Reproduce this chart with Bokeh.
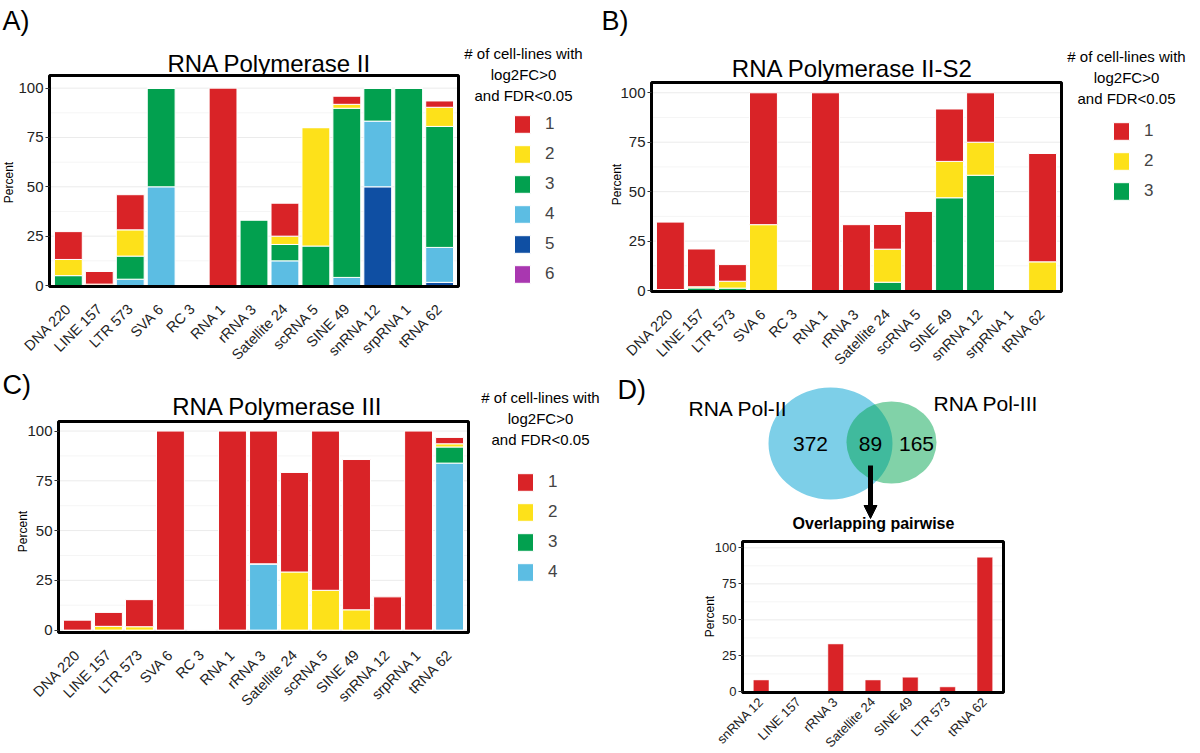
import math
from bokeh.plotting import figure
from bokeh.models import (ColumnDataSource, Range1d, Legend, LegendItem, Label, Arrow,
                          NormalHead, FixedTicker, LinearAxis)
from bokeh.embed import file_html
from bokeh.resources import INLINE
from bokeh.core.properties import value

FONT = "Liberation Sans"

# ---------------- data ----------------
categories = ["DNA 220", "LINE 157", "LTR 573", "SVA 6", "RC 3", "RNA 1", "rRNA 3",
              "Satellite 24", "scRNA 5", "SINE 49", "snRNA 12", "srpRNA 1", "tRNA 62"]
level_names = ["1", "2", "3", "4", "5", "6"]
level_colors = ["#d92327", "#fde11a", "#02a04f", "#5cbde3", "#0f4fa3", "#a937b0"]

# RNA Polymerase II (percent of elements, split by # of cell-lines)
pol2_1 = [14.1, 6.4, 17.8, 0, 0, 100, 0, 16.7, 0, 4.1, 0, 0, 3.2]
pol2_2 = [8.2, 0.7, 13.3, 0, 0, 0, 0, 4.2, 60, 2.0, 0, 0, 9.7]
pol2_3 = [5.0, 0, 11.7, 50, 0, 0, 33.3, 8.3, 20, 85.7, 16.7, 100, 61.3]
pol2_4 = [0, 0, 3.2, 50, 0, 0, 0, 12.5, 0, 4.1, 33.3, 0, 17.7]
pol2_5 = [0, 0, 0, 0, 0, 0, 0, 0, 0, 0, 50, 0, 1.6]
pol2_6 = [0, 0, 0, 0, 0, 0, 0, 0, 0, 0, 0, 0, 0]

# RNA Polymerase II-S2
pol2s2_1 = [34.1, 19.1, 8.4, 66.7, 0, 100, 33.3, 12.5, 40, 26.5, 25, 0, 54.8]
pol2s2_2 = [0.5, 0.6, 3.5, 33.3, 0, 0, 0, 16.7, 0, 18.4, 16.7, 0, 14.5]
pol2s2_3 = [0, 1.3, 1.2, 0, 0, 0, 0, 4.2, 0, 46.9, 58.3, 0, 0]

# RNA Polymerase III
pol3_1 = [5.0, 7.0, 13.6, 100, 0, 100, 66.7, 50, 80, 75.5, 16.7, 100, 3.2]
pol3_2 = [0, 1.9, 1.7, 0, 0, 0, 0, 29.2, 20, 10.2, 0, 0, 1.6]
pol3_3 = [0, 0, 0, 0, 0, 0, 0, 0, 0, 0, 0, 0, 8.1]
pol3_4 = [0, 0, 0, 0, 0, 0, 33.3, 0, 0, 0, 0, 0, 83.9]

# Venn counts: Pol-II only, overlap, Pol-III only
venn_counts = [372, 89, 165]
venn_set_names = ["RNA Pol-II", "RNA Pol-III"]

# Overlapping pairwise
overlap_categories = ["snRNA 12", "LINE 157", "rRNA 3", "Satellite 24", "SINE 49", "LTR 573", "tRNA 62"]
overlap_values = [8.3, 0.6, 33.3, 8.3, 10.2, 3.5, 93.5]

y_ticks = [0, 25, 50, 75, 100]
y_minor = [12.5, 37.5, 62.5, 87.5]
legend_title_lines = ["# of cell-lines with", "log2FC>0", "and FDR<0.05"]

# ---------------- page geometry (pixels of the picture) ----------------
PX0, PX1, PY0, PY1 = 0, 1200, 0, 753
BASE = 0.34  # baseline correction for text, in font sizes

p = figure(width=PX1 - PX0, height=PY1 - PY0, min_border=0,
           x_range=Range1d(PX0, PX1), y_range=Range1d(PY1, PY0),
           x_axis_location=None, y_axis_location=None, outline_line_color=None,
           toolbar_location=None, output_backend="svg")
p.grid.visible = False


def sub_ranges(name, dx, dy, px_l, px_r, px_t, px_b):
    kx = (dx[1] - dx[0]) / (px_r - px_l)
    p.extra_x_ranges[name] = Range1d(dx[0] - (px_l - PX0) * kx, dx[1] + (PX1 - px_r) * kx)
    ky = (dy[1] - dy[0]) / (px_b - px_t)
    p.extra_y_ranges[name] = Range1d(dy[0] - (PY1 - px_b) * ky, dy[1] + (px_t - PY0) * ky)


def label(x, y, text, size, align="left", style="normal", angle=0, baseline="alphabetic"):
    yy = y - BASE * size if baseline == "alphabetic" else y
    p.add_layout(Label(x=x, y=yy, text=text, text_font=FONT, text_font_size=f"{size}px",
                       text_align=align, text_baseline=baseline, text_color="black",
                       text_font_style=style, angle=angle))


def panel_axes(name, cats, dx, dy, tick_px, xlab_px, standoff):
    xs = list(range(len(cats)))
    rn = dict(x_range_name=name, y_range_name=name)
    p.segment(x0=[dx[0]] * len(y_minor), x1=[dx[1]] * len(y_minor), y0=y_minor, y1=y_minor,
              line_color="#f5f5f5", line_width=1, **rn)
    p.segment(x0=[dx[0]] * len(y_ticks), x1=[dx[1]] * len(y_ticks), y0=y_ticks, y1=y_ticks,
              line_color="#ebebeb", line_width=1, **rn)
    yax = LinearAxis(fixed_location=dx[0], ticker=FixedTicker(ticks=y_ticks), bounds=(0, 100), **rn)
    yax.axis_line_color = None
    yax.major_tick_in = 0
    yax.major_tick_out = 4
    yax.major_tick_line_color = "#333333"
    yax.minor_tick_line_color = None
    yax.major_label_text_font = FONT
    yax.major_label_text_font_size = tick_px
    yax.major_label_text_color = "#222222"
    yax.major_label_standoff = 2
    p.add_layout(yax, "left")
    xax = LinearAxis(fixed_location=dy[0], ticker=FixedTicker(ticks=xs),
                     major_label_overrides={i: c for i, c in zip(xs, cats)}, **rn)
    xax.axis_line_color = None
    xax.major_tick_line_color = None
    xax.minor_tick_line_color = None
    xax.major_label_orientation = math.pi / 4
    xax.major_label_text_font = FONT
    xax.major_label_text_font_size = xlab_px
    xax.major_label_text_color = "#222222"
    xax.major_label_standoff = standoff
    p.add_layout(xax, "below")
    return xs


def frame_box(name, dx, dy):
    p.quad(left=[dx[0]], right=[dx[1]], bottom=[dy[0]], top=[dy[1]], fill_color=None,
           line_color="black", line_width=3, x_range_name=name, y_range_name=name)


def stacked_panel(name, series, n_levels, px, dy, title, title_xy, letter, letter_xy,
                  percent_xy, legend_left, legend_bottom, legend_title):
    px_l, px_r, px_t, px_b = px
    dx = (-0.61, len(categories) - 1 + 0.61)
    sub_ranges(name, dx, dy, px_l, px_r, px_t, px_b)
    xs = panel_axes(name, categories, dx, dy, "15px", "14.5px", 14)
    names = level_names[:n_levels]
    colors = level_colors[:n_levels]
    data = {"x": xs}
    for nm, s in zip(names, series):
        data[name + nm] = s
    src = ColumnDataSource(data)
    stackers = [name + nm for nm in names][::-1]
    rends = p.vbar_stack(stackers=stackers, x="x", width=0.9, source=src,
                         fill_color=colors[::-1], line_color="white", line_width=1,
                         x_range_name=name, y_range_name=name)[::-1]
    frame_box(name, dx, dy)
    items = [LegendItem(label=nm, renderers=[r]) for nm, r in zip(names, rends)]
    leg = Legend(items=items, location=(legend_left - PX0, PY1 - legend_bottom),
                 orientation="vertical", glyph_width=20, glyph_height=22, label_height=22,
                 spacing=8, padding=0, margin=0, label_standoff=13,
                 label_text_font=FONT, label_text_font_size="17px",
                 border_line_color=None, background_fill_alpha=0)
    p.add_layout(leg)
    label(title_xy[0], title_xy[1], title, 24, align="center")
    label(letter_xy[0], letter_xy[1], letter, 27)
    label(percent_xy[0], percent_xy[1], "Percent", 12, align="center", baseline="middle",
          angle=math.pi / 2)
    cx, yb, dyl = legend_title
    for i, t in enumerate(legend_title_lines):
        label(cx, yb + i * dyl, t, 15, align="center")


# ---------------- Panel A ----------------
stacked_panel("A", [pol2_1, pol2_2, pol2_3, pol2_4, pol2_5, pol2_6], 6,
              (49, 458, 75, 286), (-0.5, 106.4),
              "RNA Polymerase II", (269, 71), "A)", (2, 30), (8, 182),
              512, 285, (523, 58, 20.8))

# ---------------- Panel B ----------------
stacked_panel("B", [pol2s2_1, pol2s2_2, pol2s2_3], 3,
              (651, 1061, 82, 291), (-0.5, 105.2),
              "RNA Polymerase II-S2", (852, 76), "B)", (601, 30), (616, 184),
              1111, 202, (1126, 61, 21))

# ---------------- Panel C ----------------
stacked_panel("C", [pol3_1, pol3_2, pol3_3, pol3_4], 4,
              (58, 468, 421, 632), (-1.2, 104.8),
              "RNA Polymerase III", (277, 414), "C)", (2, 394), (22, 531),
              515, 583, (540, 402, 21))

# ---------------- Panel D: Venn ----------------
p.ellipse(x=[830], y=[443], width=[124], height=[112], fill_color="#7dcfe8", line_color=None)
p.ellipse(x=[891], y=[442], width=[90], height=[82], fill_color="#03a552", fill_alpha=0.5,
          line_color=None)
p.text(x=[810, 870, 916], y=[451 - BASE * 21] * 3, text=[str(c) for c in venn_counts],
       text_font=value(FONT), text_font_size="21px", text_align="center",
       text_baseline="alphabetic", text_color="black")
label(688, 415, venn_set_names[0], 21)
label(933, 410, venn_set_names[1], 21)
label(617, 399, "D)", 27)
p.add_layout(Arrow(end=NormalHead(size=13, fill_color="black", line_color="black"),
                   x_start=870, y_start=465, x_end=870, y_end=518,
                   line_width=5, line_color="black"))

# ---------------- Panel D: overlapping bars ----------------
dxD = (-0.5, len(overlap_categories) - 0.5)
dyD = (-0.4, 104.4)
sub_ranges("D", dxD, dyD, 742, 1003, 541, 692)
xsD = panel_axes("D", overlap_categories, dxD, dyD, "13px", "13px", 1)
srcD = ColumnDataSource({"x": xsD, "val": overlap_values})
p.vbar(x="x", top="val", width=0.42, source=srcD, fill_color=level_colors[0],
       line_color="white", line_width=0.5, x_range_name="D", y_range_name="D")
frame_box("D", dxD, dyD)
label(873, 528, "Overlapping pairwise", 16, align="center", style="bold")
label(709, 616, "Percent", 12, align="center", baseline="middle", angle=math.pi / 2)

open("out.html", "w").write(file_html(p, INLINE))
